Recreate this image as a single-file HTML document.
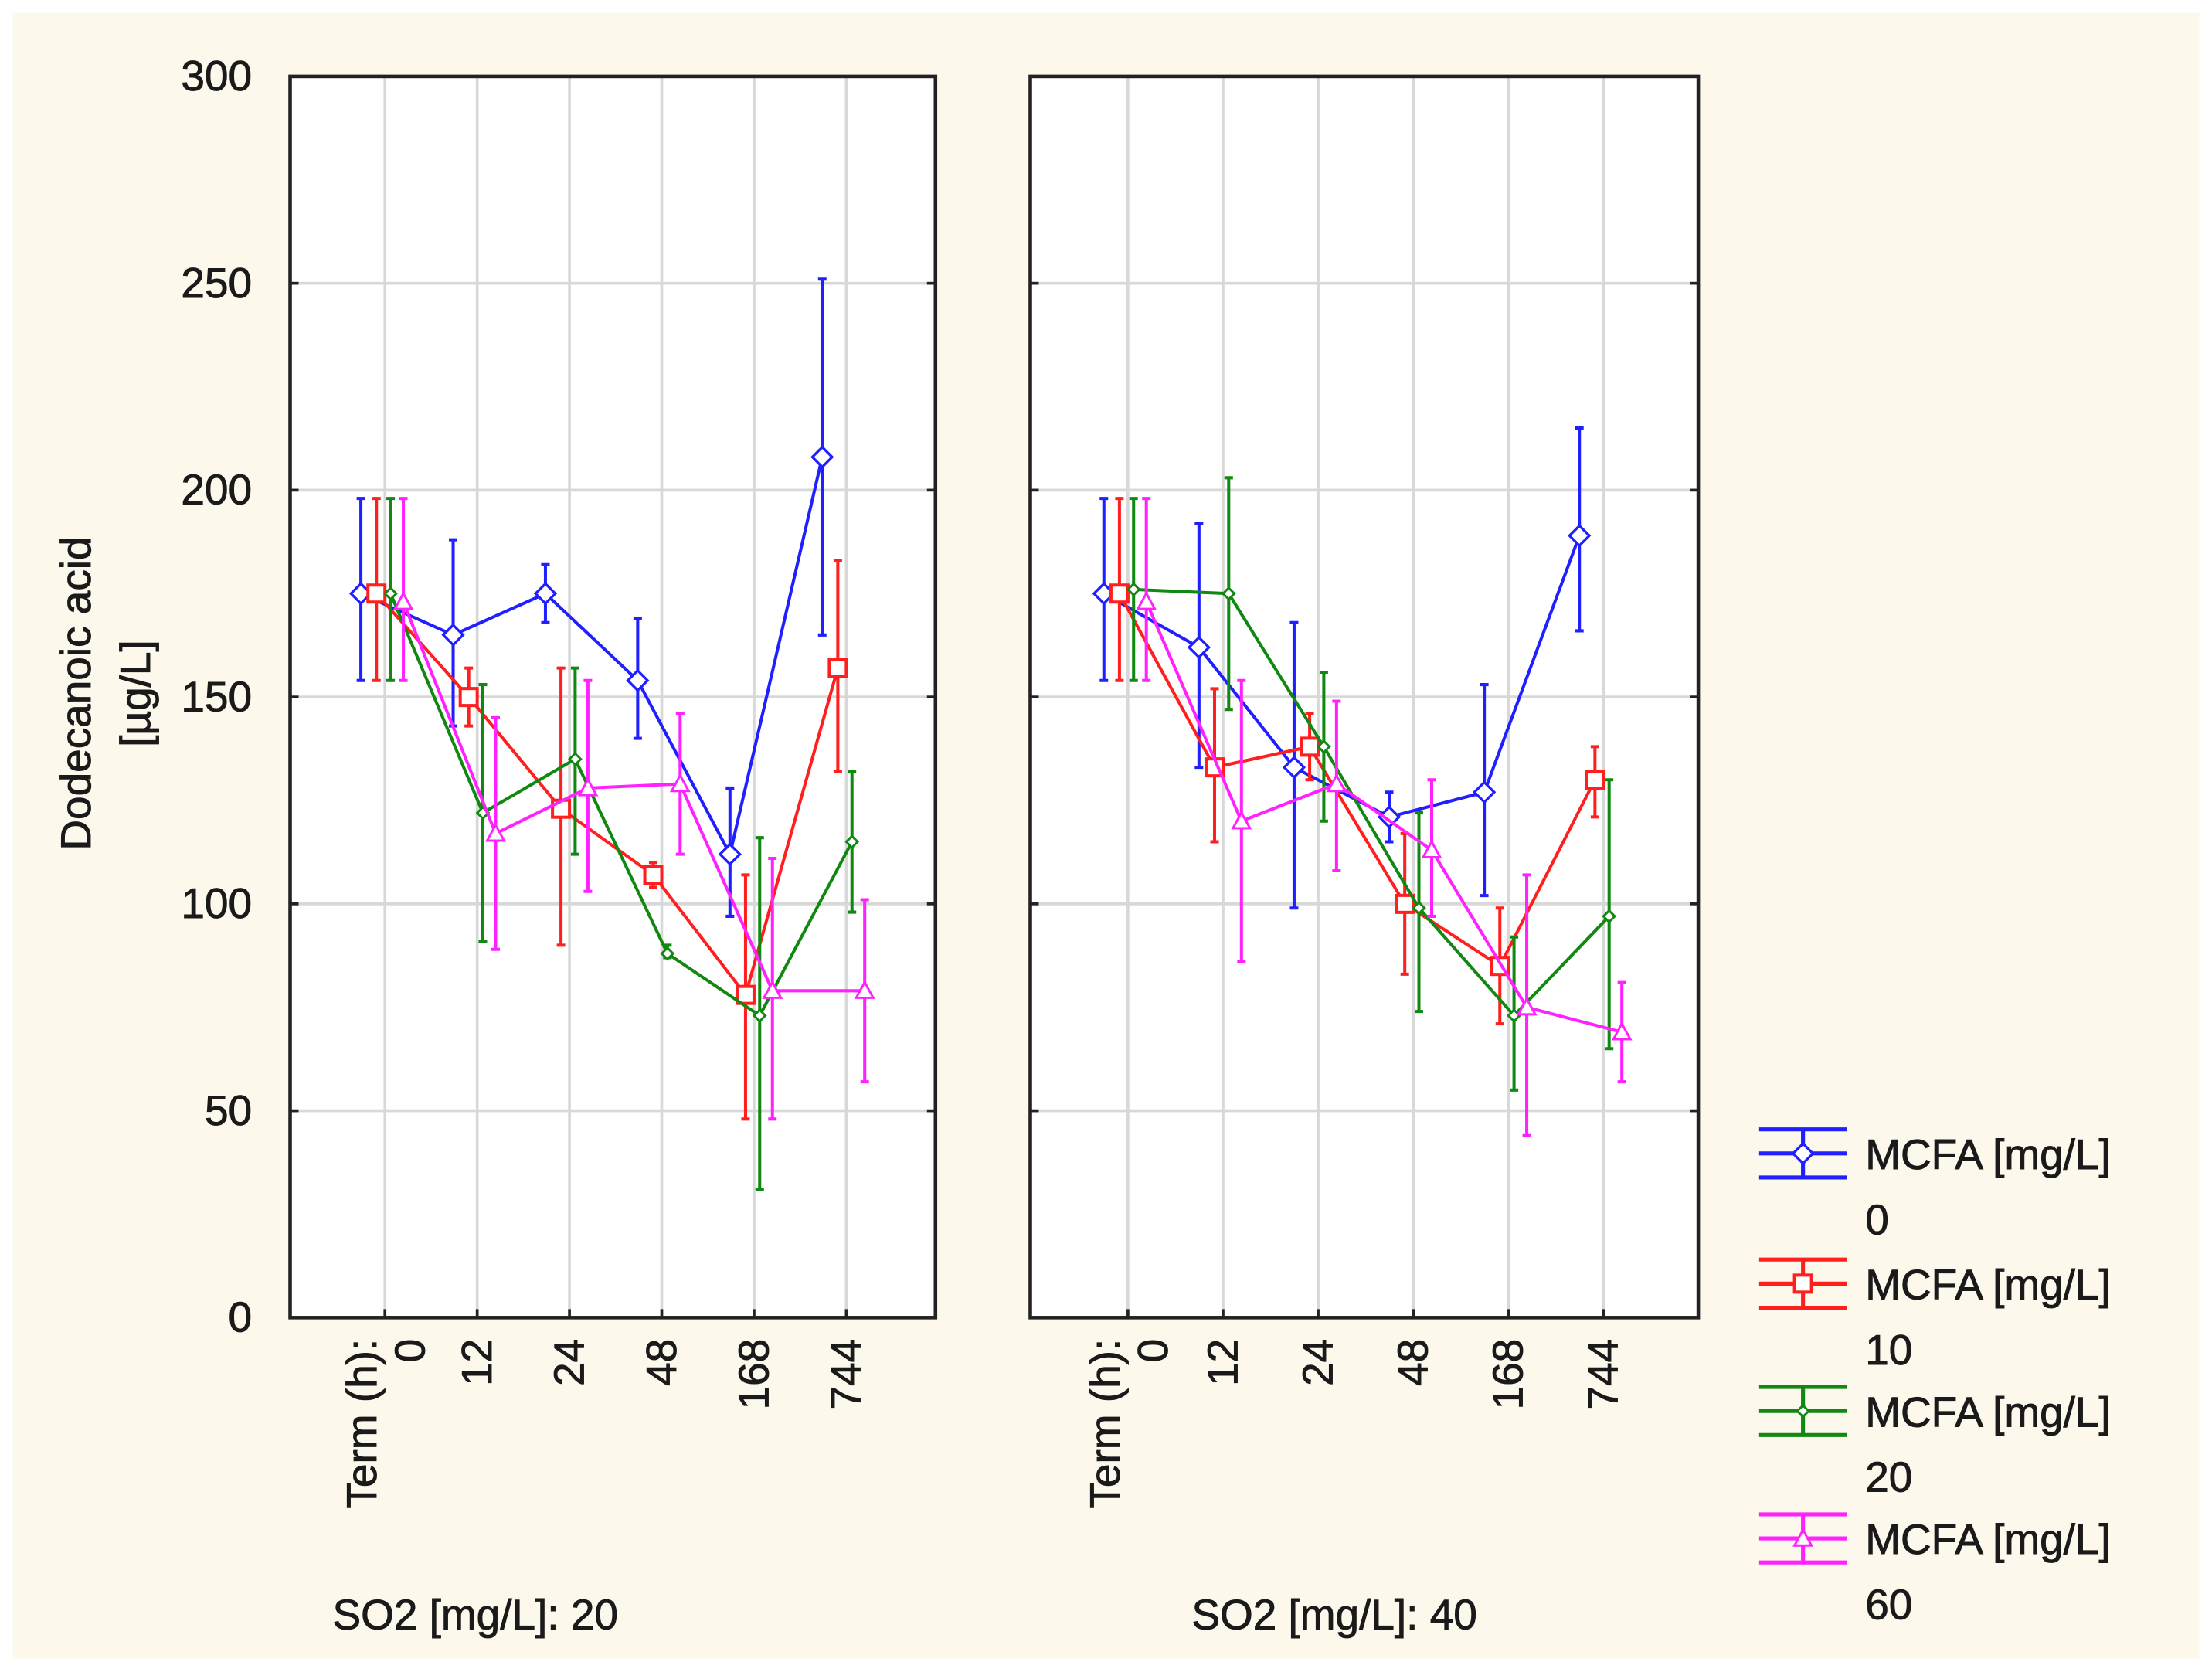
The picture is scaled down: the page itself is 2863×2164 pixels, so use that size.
<!DOCTYPE html>
<html><head><meta charset="utf-8"><style>
html,body{margin:0;padding:0;background:#fff}
svg{display:block}
text{font-family:"Liberation Sans",sans-serif;fill:#1a1a1a;stroke:#1a1a1a;stroke-width:0.5}
</style></head><body>
<svg id="chart" width="2863" height="2164" viewBox="0 0 1563 1181.4" preserveAspectRatio="none" xmlns="http://www.w3.org/2000/svg">
<rect x="0" y="0" width="1563" height="1182" fill="#ffffff"/>
<rect x="9" y="9" width="1545" height="1163" fill="#fdf8ec"/>
<g id="g"></g>
</svg>
<script>
const categories=["0","12","24","48","168","744"];
const panels=["SO2 [mg/L]: 20","SO2 [mg/L]: 40"];
const seriesNames=["0","10","20","60"];
const colors=["#1f1fff","#ff1f1f","#118811","#ff22ff"];
const yTicks=[0,50,100,150,200,250,300];
// panel 1 values [series][category]
const p1Mean=[[175,165,175,154,112,208],[175,150,123,107,78,157],[175,122,135,88,73,115],[173,117,128,129,79,79]];
const p1Lo=[[154,143,168,140,97,165],[154,143,90,104,48,132],[154,91,112,87,31,98],[154,89,103,112,48,57]];
const p1Hi=[[198,188,182,169,128,251],[198,157,157,110,107,183],[198,153,157,90,116,132],[198,145,154,146,111,101]];
// panel 2 values
const p2Mean=[[175,162,133,121,127,189],[175,133,138,100,85,130],[176,175,138,99,73,97],[173,120,129,113,75,69]];
const p2Lo=[[154,133,99,115,102,166],[154,115,130,83,71,121],[154,147,120,74,55,65],[154,86,108,97,44,57]];
const p2Hi=[[198,192,168,127,153,215],[198,152,146,117,99,138],[198,203,156,122,92,130],[198,154,149,130,107,81]];

const NS="http://www.w3.org/2000/svg";
const G=document.getElementById('g');
function el(t,a,p){const e=document.createElementNS(NS,t);for(const k in a)e.setAttribute(k,a[k]);(p||G).appendChild(e);return e;}
const yTop=54,yBot=931;
function yS(v){return yBot-(v/300)*(yBot-yTop);}
const panelGeo=[{x0:205,x1:661,c0:272,dc:65.2},{x0:728,x1:1200,c0:797,dc:67.2}];
const offs=[-17,-6,4,13];
function xS(p,i){return panelGeo[p].c0+i*panelGeo[p].dc;}
const data=[[p1Mean,p1Lo,p1Hi],[p2Mean,p2Lo,p2Hi]];

function marker(s,x,y,c,g){
  let m;
  if(s===0)m=el('polygon',{points:`${x},${y-7} ${x+7},${y} ${x},${y+7} ${x-7},${y}`,fill:'#fff',stroke:c,'stroke-width':1.8},g);
  else if(s===1)m=el('rect',{x:x-6,y:y-6,width:12,height:12,fill:'#fff',stroke:c,'stroke-width':2.2},g);
  else if(s===2)m=el('polygon',{points:`${x},${y-4} ${x+4},${y} ${x},${y+4} ${x-4},${y}`,fill:'#fff',stroke:c,'stroke-width':1.6},g);
  else m=el('polygon',{points:`${x},${y-6} ${x+6},${y+5} ${x-6},${y+5}`,fill:'#fff',stroke:c,'stroke-width':1.6},g);
  
  
}

panels.forEach((title,p)=>{
  const pg=panelGeo[p];
  const g=el('g',{});
  
  
  el('rect',{x:pg.x0,y:yTop,width:pg.x1-pg.x0,height:yBot-yTop,fill:'#fff'},g);
  yTicks.forEach(t=>{
    const y=yS(t);
    const l=el('line',{x1:pg.x0,x2:pg.x1,y1:y,y2:y,stroke:'#d8d8d8','stroke-width':2},g);
    
    
    el('line',{x1:pg.x0,x2:pg.x0+6,y1:y,y2:y,stroke:'#222','stroke-width':2},g);
    el('line',{x1:pg.x1-6,x2:pg.x1,y1:y,y2:y,stroke:'#222','stroke-width':2},g);
    if(p===0){
      const tx=el('text',{x:178,y:y+10,'text-anchor':'end','font-size':30},g);
      tx.textContent=t;
      
      
    }
  });
  categories.forEach((c,i)=>{
    const x=xS(p,i);
    const l=el('line',{x1:x,x2:x,y1:yTop,y2:yBot,stroke:'#d8d8d8','stroke-width':2},g);
    
    
    el('line',{x1:x,x2:x,y1:yBot-6,y2:yBot,stroke:'#222','stroke-width':2},g);
    const tx=el('text',{x:0,y:0,'text-anchor':'end','font-size':30,transform:`translate(${x+(i===0?28:10)},${946}) rotate(-90)`},g);
    tx.textContent=c;
    
    
  });
  const th=el('text',{x:0,y:0,'text-anchor':'end','font-size':30,transform:`translate(${pg.c0-6},${946}) rotate(-90)`},g);
  th.textContent='Term (h):';
  
  
  const pt=el('text',{x:p===0?235:842,y:1151,'font-size':30},g);
  pt.textContent=title;
  
  
  const [M,L,H]=data[p];
  M.forEach((ser,s)=>{
    const c=colors[s];
    const sg=el('g',{},g);
    
    
    const pts=ser.map((v,i)=>`${xS(p,i)+offs[s]},${yS(v)}`).join(' ');
    el('polyline',{points:pts,fill:'none',stroke:c,'stroke-width':2.2},sg);
    ser.forEach((v,i)=>{
      const x=xS(p,i)+offs[s];
      const eb=el('path',{d:`M${x},${yS(L[s][i])}V${yS(H[s][i])}M${x-3},${yS(L[s][i])}h6M${x-3},${yS(H[s][i])}h6`,stroke:c,'stroke-width':2.2,fill:'none'},sg);
      
      
      marker(s,x,yS(v),c,sg);
    });
  });
  el('rect',{x:pg.x0,y:yTop,width:pg.x1-pg.x0,height:yBot-yTop,fill:'none',stroke:'#222','stroke-width':2.5},g);
});

const yt=el('text',{x:0,y:0,'text-anchor':'middle','font-size':30,transform:'translate(64,490) rotate(-90)'});
yt.textContent='Dodecanoic acid';


const yt2=el('text',{x:0,y:0,'text-anchor':'middle','font-size':30,transform:'translate(106,490) rotate(-90)'});
yt2.textContent='[µg/L]';



const legY=[815,907,997,1087];
seriesNames.forEach((n,s)=>{
  const c=colors[s],y=legY[s];
  const lg=el('g',{});
  
  
  el('path',{d:`M1243,${y}H1305M1274,${y-17}V${y+17}M1243,${y-17}H1305M1243,${y+17}H1305`,stroke:c,'stroke-width':2.8,fill:'none'},lg);
  marker(s,1274,y,c,lg);
  const t1=el('text',{x:1318,y:y+11,'font-size':30},lg);
  t1.textContent='MCFA [mg/L]';
  const t2=el('text',{x:1318,y:y+57,'font-size':30},lg);
  t2.textContent=n;
});
</script>
</body></html>
